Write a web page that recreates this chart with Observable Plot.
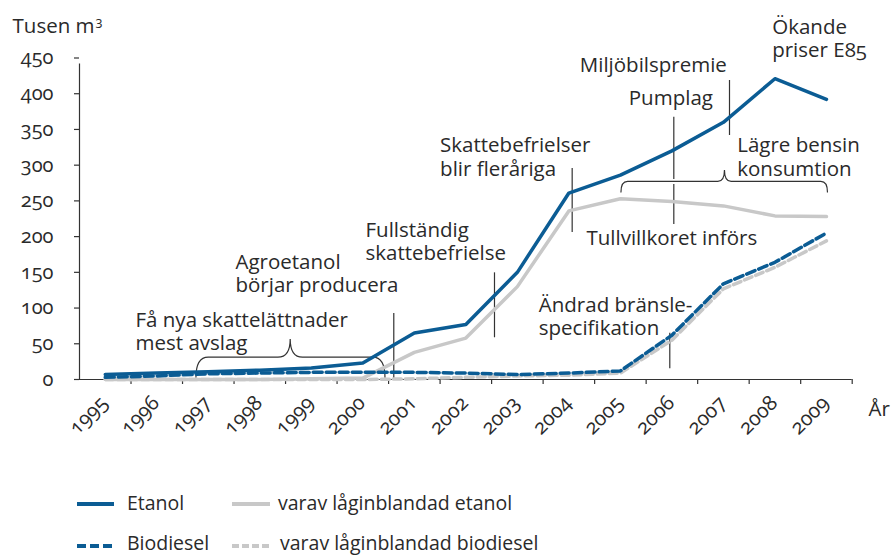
<!DOCTYPE html>
<html><head><meta charset="utf-8">
<script src="https://cdn.jsdelivr.net/npm/d3@7"></script>
<script src="https://cdn.jsdelivr.net/npm/@observablehq/plot@0.6"></script>
<style>
body{margin:0;background:#fff;}
#wrap{position:relative;width:892px;height:557px;font-family:"Open Sans",Lato,sans-serif;color:#2a2a2a;font-variant-numeric:oldstyle-nums;font-feature-settings:"onum" 1;}
#wrap svg text{font-feature-settings:"onum" 1;font-variant-numeric:oldstyle-nums;}
.sw{position:absolute;}
.lt{position:absolute;font-size:19.5px;line-height:28px;white-space:nowrap;}
</style></head><body>
<div id="wrap"><div id="chart"></div>
<svg class="sw" style="left:77px;top:498px" width="37" height="12"><line x1="0" x2="37" y1="6" y2="6" stroke="#0b5c94" stroke-width="4"/></svg>
<div class="lt" style="left:127px;top:489px">Etanol</div>
<svg class="sw" style="left:232px;top:498px" width="38" height="12"><line x1="0" x2="38" y1="6" y2="6" stroke="#c8c8c8" stroke-width="4"/></svg>
<div class="lt" style="left:278px;top:489px">varav låginblandad etanol</div>
<svg class="sw" style="left:77px;top:540px" width="37" height="12"><line x1="0" x2="37" y1="6" y2="6" stroke="#0b5c94" stroke-width="4" stroke-dasharray="9,4"/></svg>
<div class="lt" style="left:127px;top:529px">Biodiesel</div>
<svg class="sw" style="left:232px;top:540px" width="38" height="12"><line x1="0" x2="38" y1="6" y2="6" stroke="#c8c8c8" stroke-width="4" stroke-dasharray="7,3"/></svg>
<div class="lt" style="left:280px;top:529px">varav låginblandad biodiesel</div>
</div>
<script>
const years = [1995,1996,1997,1998,1999,2000,2001,2002,2003,2004,2005,2006,2007,2008,2009];
const etanol = [7,9,11,13,16,23,65,77,150,261,286,320,360,421,392];
const etanolLag = [0,0,0,0,1,2,38,58,130,236,253,249,243,229,228];
const biodiesel = [3,5,8,9,10,10,10,9,7,9,12,62,134,164,205];
const biodieselLag = [0,0,0,0,0,0,1,3,5,6,9,55,127,157,194];
const yTicks = [0,50,100,150,200,250,300,350,400,450];
// annotation texts; y is the value at the baseline of the last line
const notes = [
  {text:"Tusen m", x:1993.2, y:484.3},
  {text:"Ökande\npriser E85", x:2007.947, y:451.0},
  {text:"Miljöbilspremie", x:2004.212, y:430.1},
  {text:"Pumplag", x:2005.163, y:384.9},
  {text:"Lägre bensin\nkonsumtion", x:2007.268, y:285.5},
  {text:"Skattebefrielser\nblir fleråriga", x:2001.5, y:285.5},
  {text:"Fullständig\nskattebefrielse", x:2000.052, y:167.5},
  {text:"Agroetanol\nbörjar producera", x:1997.528, y:122.2},
  {text:"Få nya skattelättnader\nmest avslag", x:1995.587, y:41.3},
  {text:"Tullvillkoret införs", x:2004.342, y:187.6},
  {text:"Ändrad bränsle-\nspecifikation", x:2003.416, y:61.6},
  {text:"År", x:2009.817, y:-50.4}
];
const superscripts = [{text:"3", x:1994.81, y:494.5}];
const markers = [
  {x:2000.601, y1:92.4, y2:0},
  {x:2002.556, y1:149.3, y2:58.4},
  {x:2004.064, y1:295.3, y2:205.8},
  {x:2006.037, y1:367.1, y2:216.9},
  {x:2007.118, y1:418.5, y2:341.5},
  {x:2005.959, y1:64.8, y2:15.0}
];
const braces = [
  {x0:1996.77, xm:1998.60, x1:2000.44, yEnd:1.8, yMid:30.5, yTip:56},
  {x0:2005.02, xm:2007.03, x1:2009.03, yEnd:261, yMid:276.5, yTip:292.5}
];

const rows = years.map((yr, i) => ({year: yr, etanol: etanol[i], etanolLag: etanolLag[i], biodiesel: biodiesel[i], biodieselLag: biodieselLag[i]}));
const xEdges = years.map(y => y + 0.5);
const BLUE = "#0b5c94", GRAY = "#c8c8c8", INK = "#2a2a2a";

function braceMark(index, scales) {
  const {x, y} = scales;
  const g = d3.create("svg:g").attr("fill", "none");
  for (const b of braces) {
    const X0 = x(b.x0), X1 = x(b.x1), XM = x(b.xm), YE = y(b.yEnd), YM = y(b.yMid), YT = y(b.yTip);
    const r = 0.6 * Math.abs(YE - YM);
    const p = d3.path();
    p.moveTo(X0, YE); p.quadraticCurveTo(X0, YM, X0 + r, YM); p.lineTo(XM - r, YM); p.quadraticCurveTo(XM, YM, XM, YT);
    p.quadraticCurveTo(XM, YM, XM + r, YM); p.lineTo(X1 - r, YM); p.quadraticCurveTo(X1, YM, X1, YE);
    g.append("path").attr("d", p.toString()).attr("stroke", "#fff").attr("stroke-width", 5);
    g.append("path").attr("d", p.toString()).attr("stroke", "#333").attr("stroke-width", 1.2);
  }
  return g.node();
}

const chart = Plot.plot({
  width: 892, height: 470,
  marginLeft: 79, marginRight: 40.3, marginTop: 57.5, marginBottom: 91,
  style: {fontFamily: "'Open Sans', Lato, sans-serif", fontSize: "20px", color: INK, background: "#fff", overflow: "visible"},
  x: {domain: [1994.5, 2009.5]},
  y: {domain: [0, 450]},
  marks: [
    Plot.ruleX(markers, {x: "x", y1: "y1", y2: "y2", stroke: "#333", strokeWidth: 1.2}),
    braceMark,
    Plot.ruleX([1994.5], {y1: 0, y2: 450, insetBottom: -6, stroke: "#333", strokeWidth: 1.2}),
    Plot.ruleY([0], {x1: 1994.5, x2: 2009.5, stroke: "#333", strokeWidth: 1.2}),
    Plot.axisY({ticks: yTicks, tickSize: 5, tickPadding: 21, label: null, stroke: "#333", strokeWidth: 1.2}),
    Plot.axisX({ticks: xEdges, tickSize: 5, tickFormat: () => "", label: null, stroke: "#333", strokeWidth: 1.2}),
    Plot.text(years, {x: d => d, frameAnchor: "bottom", text: d => String(d), rotate: -45, textAnchor: "end", lineAnchor: "middle", dy: 20, dx: -1, fontSize: 20.5, fill: INK}),
    Plot.line(rows, {x: "year", y: "etanolLag", stroke: GRAY, strokeWidth: 3.5}),
    Plot.line(rows, {x: "year", y: "biodieselLag", stroke: GRAY, strokeWidth: 3.5, strokeDasharray: "8,4"}),
    Plot.line(rows, {x: "year", y: "biodiesel", stroke: BLUE, strokeWidth: 3.5, strokeDasharray: "9,4"}),
    Plot.line(rows, {x: "year", y: "etanol", stroke: BLUE, strokeWidth: 3.5}),
    Plot.text(notes, {x: "x", y: "y", text: "text", textAnchor: "start", lineAnchor: "bottom", lineHeight: 1.137, fontSize: 20.5, fill: INK}),
    Plot.text(superscripts, {x: "x", y: "y", text: "text", textAnchor: "start", lineAnchor: "bottom", fontSize: 13, fill: INK})
  ]
});
document.getElementById("chart").appendChild(chart);
</script>
</body></html>
